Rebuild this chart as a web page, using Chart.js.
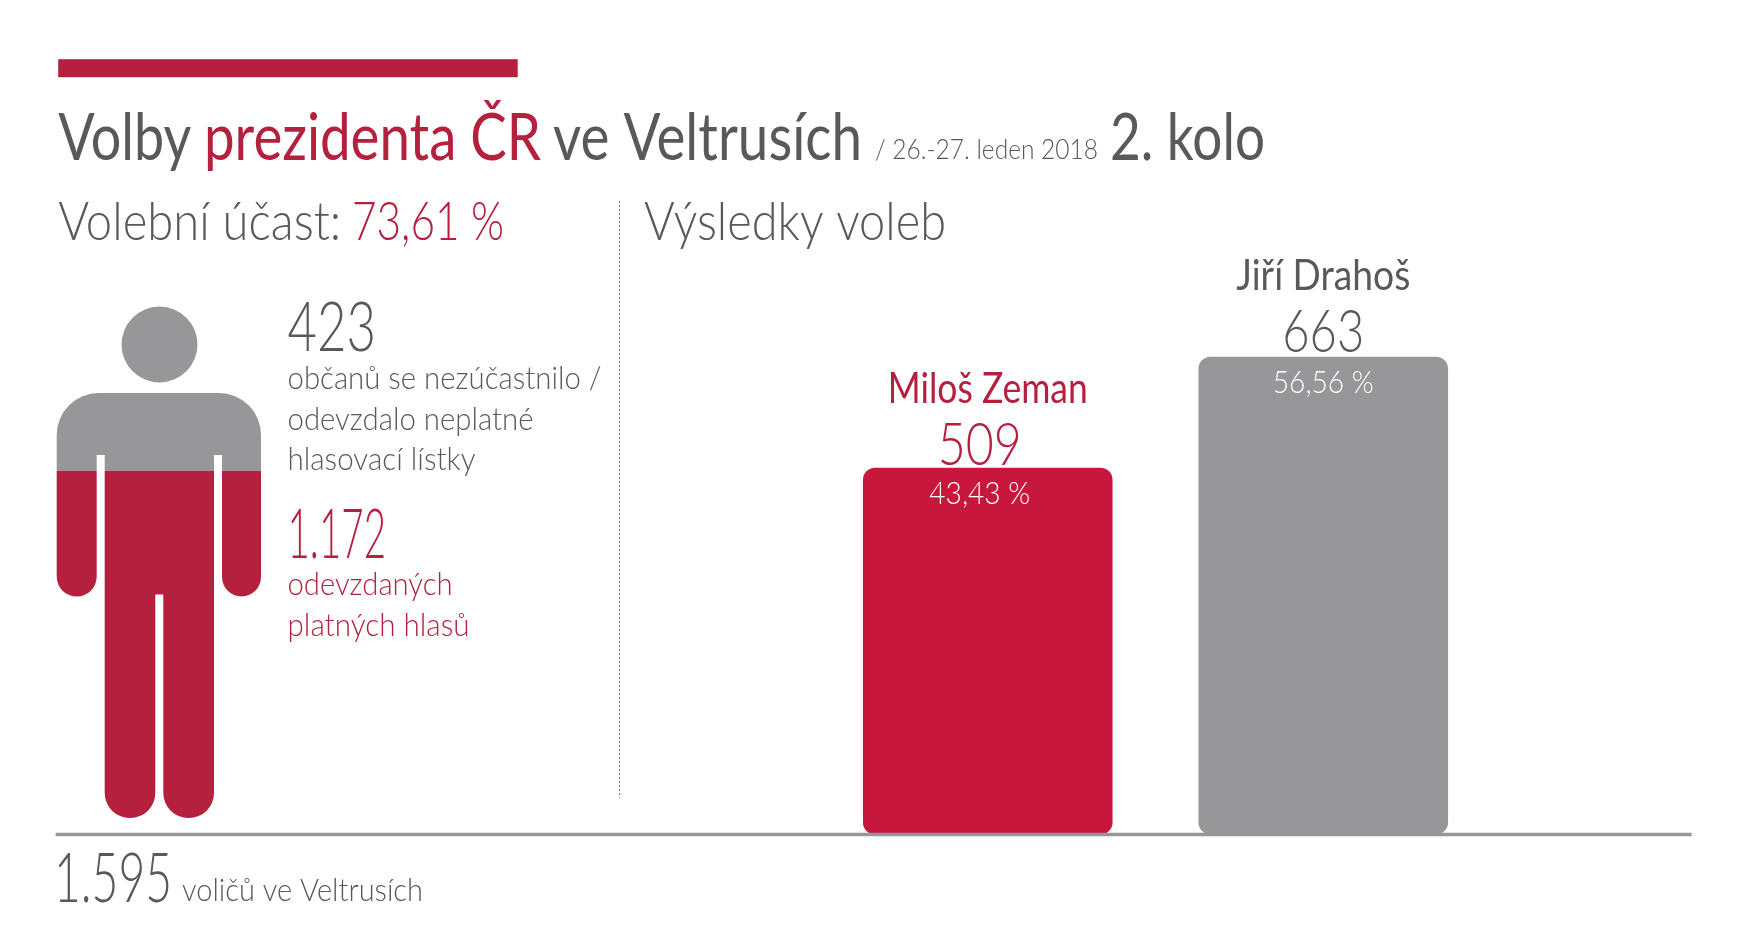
<!DOCTYPE html>
<html lang="cs">
<head>
<meta charset="utf-8">
<title>Volby prezidenta ČR ve Veltrusích</title>
<style>
  html, body { margin: 0; padding: 0; background: #fff; }
  canvas { display: block; }
</style>
</head>
<body>
<canvas id="myChart" width="1754" height="945"></canvas>
<script src="https://cdn.jsdelivr.net/npm/chart.js@4/dist/chart.umd.js"></script>
<script>
const candidates = ['Miloš Zeman', 'Jiří Drahoš'];
const votes = [509, 663];
const percents = ['43,43 %', '56,56 %'];
const validVotes = 1172;
const otherVoters = 423;
const allVoters = 1595;
const turnout = '73,61 %';

const grey = '#97979a';
const darkGrey = '#58595b';
const red = '#b5203f';
const barRed = '#c8173c';
const fontName = 'Lato';

// draws one text and squeezes it to the width it has in the reference
function putText(ctx, text, x, y, size, color, width, align, weight) {
  ctx.save();
  ctx.font = (weight || 300) + ' ' + size + 'px ' + fontName;
  ctx.fillStyle = color;
  ctx.textBaseline = 'alphabetic';
  const sx = width / ctx.measureText(text).width;
  const left = align === 'center' ? x - width / 2 : x;
  ctx.translate(left, y);
  ctx.scale(sx, 1);
  ctx.fillText(text, 0, 0);
  ctx.restore();
}

function personPath(ctx) {
  ctx.beginPath();
  ctx.moveTo(197.5, 344.5);
  ctx.arc(159.5, 344.5, 38, 0, Math.PI * 2);
  ctx.roundRect(56.7, 393, 204.3, 62, [42, 42, 0, 0]);
  ctx.roundRect(56.7, 448.5, 40, 148, [0, 0, 20, 20]);
  ctx.roundRect(222, 448.5, 39, 148, [0, 0, 20, 20]);
  ctx.rect(104.7, 448.5, 109.3, 146);
  ctx.roundRect(104.7, 588, 50.6, 230, [0, 0, 25, 25]);
  ctx.roundRect(163.3, 588, 50.7, 230, [0, 0, 25, 25]);
}

const infographic = {
  id: 'infographic',
  afterDraw(chart) {
    const ctx = chart.ctx;
    const base = chart.chartArea.bottom;

    // header
    ctx.fillStyle = red;
    ctx.fillRect(58.2, 59.2, 459.5, 18);
    putText(ctx, 'Volby', 58.2, 160, 66, darkGrey, 133, 'left', 400);
    putText(ctx, 'prezidenta ČR', 204, 160, 66, red, 337, 'left', 400);
    putText(ctx, 've Veltrusích', 553, 160, 66, darkGrey, 309, 'left', 400);
    putText(ctx, '/ 26.-27. leden 2018', 875, 159, 28, darkGrey, 223);
    putText(ctx, '2. kolo', 1110, 160, 66, darkGrey, 155, 'left', 400);

    putText(ctx, 'Volební účast:', 58.2, 240, 54, darkGrey, 283);
    putText(ctx, turnout, 352, 240, 54, red, 152);
    putText(ctx, 'Výsledky voleb', 644, 240, 54, darkGrey, 302);

    // dotted divider
    ctx.save();
    ctx.strokeStyle = '#77787b';
    ctx.lineWidth = 1;
    ctx.setLineDash([2, 2]);
    ctx.beginPath();
    ctx.moveTo(619.5, 201);
    ctx.lineTo(619.5, 798);
    ctx.stroke();
    ctx.restore();

    // person split by the share of valid votes
    const split = chart.scales.person.getPixelForValue(validVotes);
    ctx.save();
    ctx.beginPath();
    ctx.rect(0, 0, 400, split);
    ctx.clip();
    personPath(ctx);
    ctx.fillStyle = grey;
    ctx.fill();
    ctx.restore();
    ctx.save();
    ctx.beginPath();
    ctx.rect(0, split, 400, base - split);
    ctx.clip();
    personPath(ctx);
    ctx.fillStyle = red;
    ctx.fill();
    ctx.restore();

    // left column
    putText(ctx, String(otherVoters), 287.5, 351, 69, darkGrey, 88.5);
    putText(ctx, 'občanů se nezúčastnilo /', 287.5, 389, 32, darkGrey, 314);
    putText(ctx, 'odevzdalo neplatné', 287.5, 429.5, 32, darkGrey, 246);
    putText(ctx, 'hlasovací lístky', 287.5, 469.5, 32, darkGrey, 188);
    putText(ctx, '1.172', 287.5, 558, 69, red, 98.5);
    putText(ctx, 'odevzdaných', 287.5, 594.5, 32, red, 165);
    putText(ctx, 'platných hlasů', 287.5, 635.5, 32, red, 182);

    // bar labels
    const bars = chart.getDatasetMeta(0).data;
    const shift = [-8, 0];
    const nameWidth = [200, 174];
    const nameUp = [65, 67];
    const valueUp = [3, 5];
    const valueWidth = [84, 82];
    const colors = [red, darkGrey];
    bars.forEach(function (bar, i) {
      putText(ctx, candidates[i], bar.x, bar.y - nameUp[i], 42, colors[i], nameWidth[i], 'center', 400);
      putText(ctx, String(votes[i]), bar.x + shift[i], bar.y - valueUp[i], 60, colors[i], valueWidth[i], 'center');
      putText(ctx, percents[i], bar.x + shift[i], bar.y + 36, 32, '#ffffff', 101, 'center');
    });

    // baseline drawn over the bars
    ctx.fillStyle = grey;
    ctx.fillRect(55.7, base - 1.75, 1636, 3.5);

    // footer
    putText(ctx, String(allVoters).replace(/^(\d)/, '$1.'), 54, 902, 69, darkGrey, 118);
    putText(ctx, 'voličů ve Veltrusích', 182, 901, 32, darkGrey, 241);
  }
};

const data = {
  labels: candidates,
  datasets: [
    {
      data: votes,
      backgroundColor: [barRed, grey],
      borderRadius: 12,
      borderSkipped: false,
      categoryPercentage: 1,
      barPercentage: 0.744,
    },
  ]
};

const config = {
  type: 'bar',
  data: data,
  options: {
    responsive: false,
    animation: false,
    events: [],
    layout: {
      padding: { left: 820, right: 263, top: 0, bottom: 110.5 },
    },
    plugins: {
      legend: { display: false },
      title: { display: false },
      tooltip: { enabled: false },
    },
    scales: {
      x: { display: false },
      y: { display: false, min: 0, max: 1158 },
      person: { display: false, position: 'right', min: 0, max: 2688 },
    },
  },
  plugins: [infographic],
};

const myChart = new Chart(document.getElementById('myChart'), config);
</script>
</body>
</html>
